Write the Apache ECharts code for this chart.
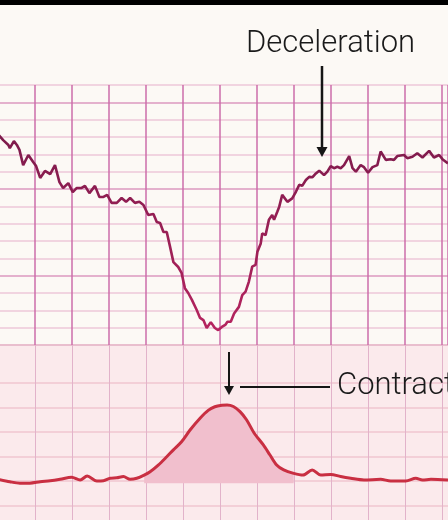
<!DOCTYPE html>
<html><head><meta charset="utf-8">
<script src="https://cdn.jsdelivr.net/npm/echarts@6/dist/echarts.min.js"></script>
<style>html,body{margin:0;padding:0;background:#fcf9f5;}#c{width:448px;height:520px;}</style>
</head><body><div id="c"></div>
<script>
// Fetal heart rate (bpm) over time (s)
const fhrTime = [0,1.4,2.8,3.2,4.3,5.1,5.8,6.8,8.2,9.5,10.3,11.4,12.7,14.1,15.4,16.6,17.6,19.0,20.2,21.3,22.6,23.5,24.7,26.2,27.4,28.5,29.5,30.7,32.1,33.4,34.6,35.7,37.0,38.2,39.3,40.6,42.0,42.9,43.8,44.7,45.6,46.5,47.4,48.7,49.6,50.5,51.4,52.4,53.7,54.6,55.5,56.4,57.5,58.6,59.5,60.5,61.4,62.0,62.9,63.8,65.1,66.0,66.9,67.8,68.7,69.6,70.1,71.0,71.4,72.3,73.2,74.1,74.6,75.5,76.0,76.8,78.2,79.5,80.5,81.4,82.2,83.2,84.1,85.0,85.9,86.8,88.1,89.0,89.9,90.8,91.7,92.6,93.5,94.9,95.8,96.7,98.0,98.9,100.0,101.2,102.5,103.4,104.8,106.1,107.0,107.9,109.7,110.6,112.0,113.3,114.7,116.5,117.8,119.2,120.1,121.6];
const fhrBpm = [140.8,139.1,137.7,136.8,138.8,137.7,136.3,131.9,134.8,132.8,131.6,128.2,130.2,129.3,131.9,127.0,125.3,126.7,124.1,125.3,125.3,125.9,123.8,125.9,122.7,122.7,123.3,121.0,121.0,122.4,121.3,122.4,121.0,121.3,120.4,117.5,117.8,115.5,115.2,112.6,112.6,108.3,103.9,102.5,100.8,96.4,95.0,93.0,90.1,87.8,87.2,84.9,86.6,84.9,84.3,85.2,85.8,86.7,86.7,89.1,91.0,94.4,95.4,98.3,102.6,103.1,106.9,109.3,112.2,111.7,116.1,117.5,116.1,118.5,119.9,123.3,121.3,122.3,124.2,126.2,125.9,127.6,128.5,128.4,129.5,130.3,129.0,130.0,131.6,131.0,131.4,131.0,131.9,134.5,131.0,130.0,131.9,131.3,129.7,131.3,131.9,135.8,133.4,133.6,133.4,134.5,134.8,133.9,134.3,135.3,134.1,136.0,134.1,134.8,133.6,132.4];
// Uterine activity (tocodynamometry)
const tocoTime = [0,3.2,5.9,8.6,11.4,14.1,16.8,19.9,22.2,24.1,26.7,28.5,30.3,32.1,33.9,35.7,37.5,39.5,41.1,43.3,45.6,47.4,49.6,51.9,54.6,56.8,58.6,60.5,61.9,63.6,65.4,67.2,69.2,71.7,73.5,75.3,77.2,79.9,82.4,84.9,87.2,89.9,92.6,95.3,98.9,103.4,106.1,110.2,112.9,114.7,117.0,121.6];
const tocoValue = [20.7,19.7,19.1,19.1,19.7,20.1,20.7,21.5,20.4,22.0,20.0,20.1,21.1,21.3,21.8,20.7,21.1,22.4,23.8,26.5,29.9,32.7,36.0,40.8,45.6,48.8,50.3,50.9,51.0,50.4,48.3,44.9,39.6,34.7,30.6,26.5,24.5,23.1,22.4,24.5,22.4,22.7,21.8,21.1,20.4,20.7,20.0,20.0,21.1,20.4,20.7,20.4];
const contractionWindow = [39.5, 79.9];
const tocoBaseline = 19.1;
const labels = { decel: 'Deceleration', contraction: 'Contraction' };

const fhrData = fhrTime.map((t, i) => [t, fhrBpm[i]]);
const tocoData = tocoTime.map((t, i) => [t, tocoValue[i]]);
const fillData = tocoData.filter(p => p[0] >= contractionWindow[0] && p[0] <= contractionWindow[1]);

const chart = echarts.init(document.getElementById('c'), null, { renderer: 'canvas' });
const minorH = '#eec7d9', majorH = '#dc98bf';
const xCommon = {
  type: 'value', min: 0, max: 121.6, interval: 10,
  axisLine: { show: false }, axisTick: { show: false }, axisLabel: { show: false }
};
const font = 'Roboto, "Liberation Sans", sans-serif';
chart.setOption({
  backgroundColor: '#fcf9f5',
  animation: false,
  grid: [
    { left: -2, right: 0, top: 85, height: 260, show: true, backgroundColor: '#fcf9f5', borderWidth: 0, outerBoundsMode: 'none', containLabel: false },
    { left: -2, right: 0, top: 345, height: 185, show: true, backgroundColor: '#fbeaec', borderWidth: 0, outerBoundsMode: 'none', containLabel: false }
  ],
  xAxis: [
    Object.assign({ gridIndex: 0, splitLine: { show: true, lineStyle: { color: '#cd6caa', width: 1.5 } } }, xCommon),
    Object.assign({ gridIndex: 1, splitLine: { show: true, lineStyle: { color: '#e2b3ca', width: 1 } } }, xCommon)
  ],
  yAxis: [
    { gridIndex: 0, type: 'value', min: 80, max: 155, interval: 5,
      axisLine: { show: false }, axisTick: { show: false }, axisLabel: { show: false },
      splitLine: { show: true, lineStyle: { color: [minorH, minorH, minorH, minorH, majorH], width: 1.5 } } },
    { gridIndex: 1, type: 'value', min: 0, max: 75.5, interval: 10,
      axisLine: { show: false }, axisTick: { show: false }, axisLabel: { show: false },
      splitLine: { show: true, lineStyle: { color: ['#f0c6d0','#f0c6d0','#f0c6d0','#f0c6d0','#f0c6d0','#f0c6d0','#f0c6d0','rgba(0,0,0,0)','#e6b9c9'], width: 1.5 } } }
  ],
  series: [
    { type: 'line', xAxisIndex: 0, yAxisIndex: 0, data: fhrData, symbol: 'none', clip: false, z: 5,
      lineStyle: { width: 2.6, color: new echarts.graphic.LinearGradient(0, 0, 0, 1, [
        { offset: 0, color: '#7c1a4b' }, { offset: 1, color: '#b6245f' }]) } },
    { type: 'line', xAxisIndex: 1, yAxisIndex: 1, data: fillData, symbol: 'none', smooth: 0.3, z: 3,
      lineStyle: { width: 0, opacity: 0 },
      areaStyle: { color: '#f1bfcd', opacity: 1, origin: tocoBaseline } },
    { type: 'line', xAxisIndex: 1, yAxisIndex: 1, data: tocoData, symbol: 'none', smooth: 0.3, z: 5,
      lineStyle: { width: 3, color: '#c92f42' } }
  ],
  graphic: [
    { type: 'rect', z: 100, shape: { x: 0, y: 0, width: 448, height: 5 }, style: { fill: '#000' } },
    { type: 'text', z: 100, x: 246, y: 44, style: { text: labels.decel, font: '300 31px ' + font, fill: '#1a1a1a', verticalAlign: 'middle', align: 'left' } },
    { type: 'line', z: 100, shape: { x1: 322, y1: 66, x2: 322, y2: 149 }, style: { stroke: '#151515', lineWidth: 2.5 } },
    { type: 'polygon', z: 100, shape: { points: [[316.5, 147], [327.5, 147], [322, 157]] }, style: { fill: '#151515' } },
    { type: 'line', z: 100, shape: { x1: 229, y1: 352, x2: 229, y2: 388 }, style: { stroke: '#151515', lineWidth: 2 } },
    { type: 'polygon', z: 100, shape: { points: [[224, 386], [234, 386], [229, 395]] }, style: { fill: '#151515' } },
    { type: 'line', z: 100, shape: { x1: 240, y1: 387, x2: 330, y2: 387 }, style: { stroke: '#151515', lineWidth: 2 } },
    { type: 'text', z: 100, x: 337, y: 386, style: { text: labels.contraction, font: '300 31px ' + font, fill: '#1a1a1a', verticalAlign: 'middle', align: 'left' } }
  ]
});
</script></body></html>
